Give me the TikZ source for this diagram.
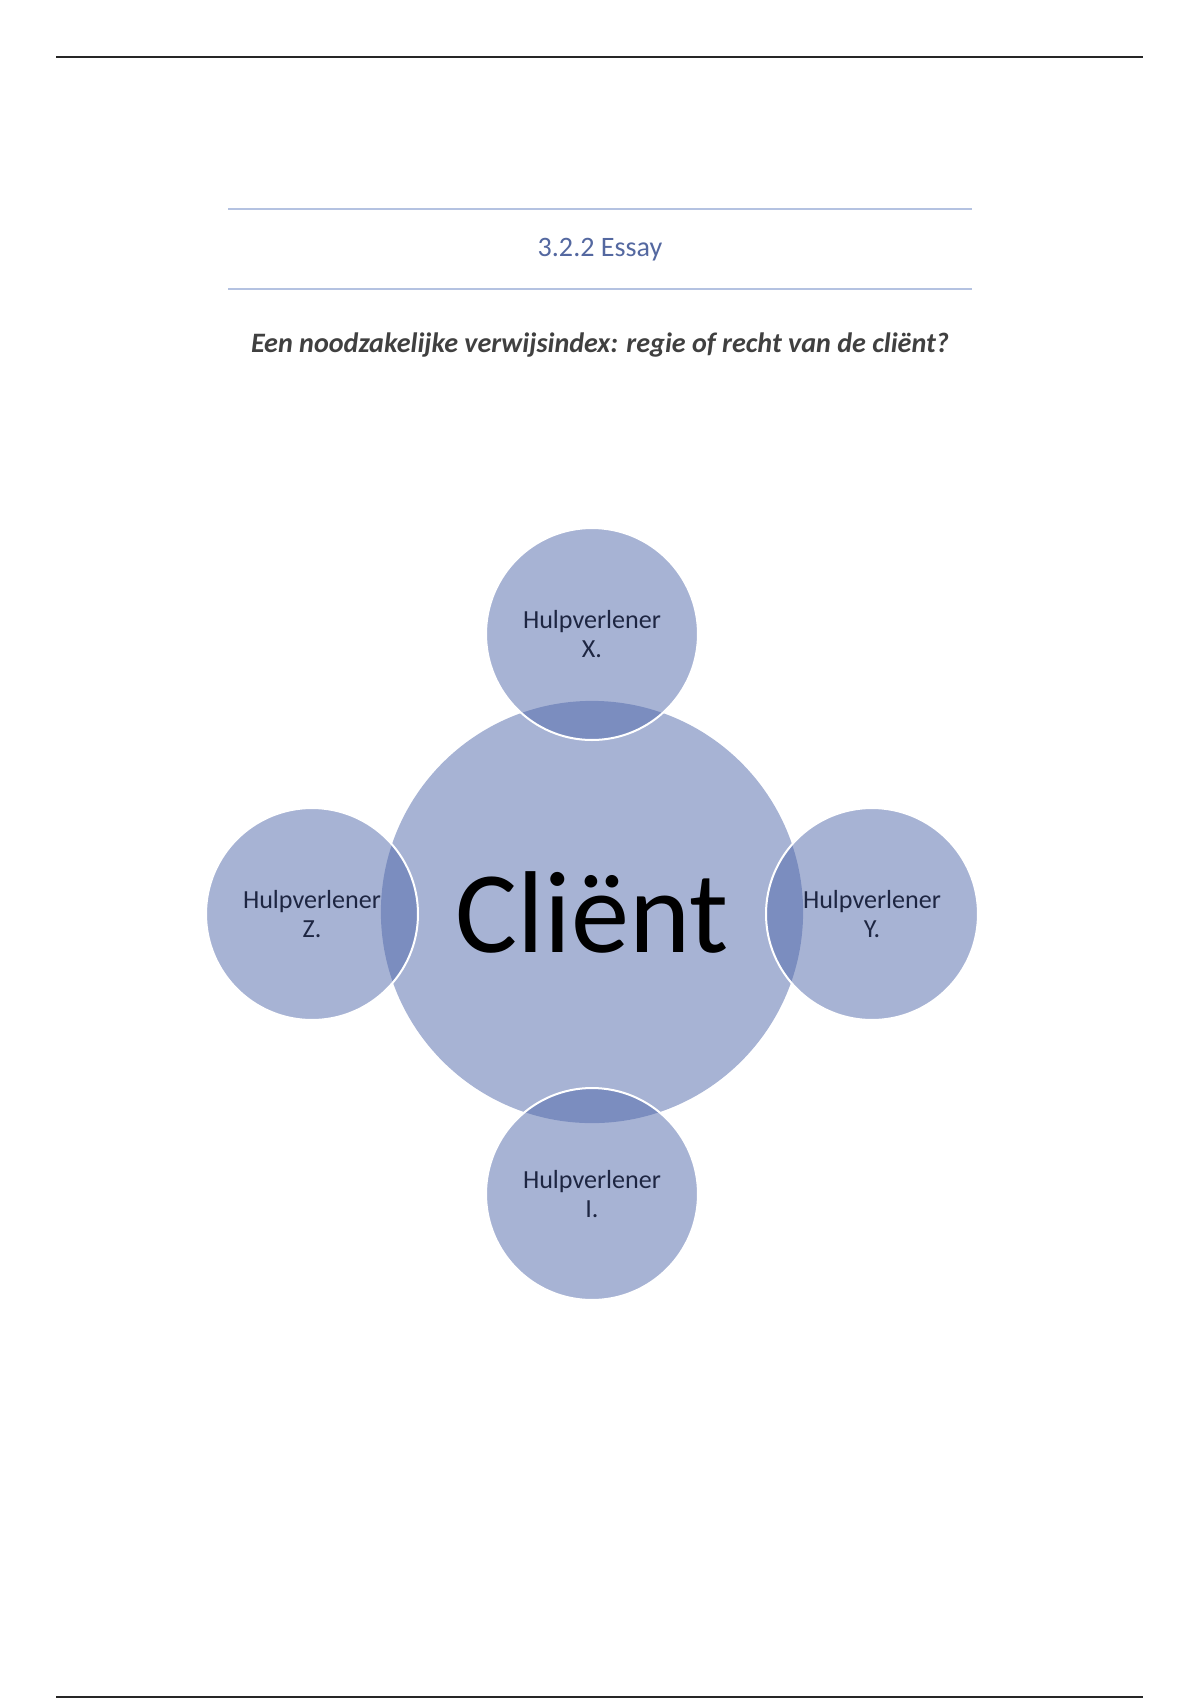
\documentclass[tikz,border=0pt]{standalone}
\usepackage{fontspec}
\setmainfont{Carlito}
\usetikzlibrary{positioning}

\definecolor{vennblue}{RGB}{80,104,170}
\definecolor{headline}{RGB}{180,194,225}
\definecolor{headtext}{RGB}{84,104,160}
\definecolor{titletext}{RGB}{64,64,64}
\definecolor{labeltext}{RGB}{30,38,66}

\begin{document}
\begin{tikzpicture}[
    x=0.0175cm, y=-0.0175cm,
    hub/.style={circle, fill=vennblue, fill opacity=0.5, text opacity=1, minimum size=7.39cm, inner sep=0pt, font=\fontsize{58}{60}\selectfont},
    helper/.style={circle, fill=vennblue, fill opacity=0.5, text opacity=1, draw=white, draw opacity=1, line width=1pt, minimum size=3.71cm, inner sep=0pt, align=center, text=labeltext, font=\fontsize{13}{14.5}\selectfont},
    rule/.style={line width=1.2pt, black!85}
]
\useasboundingbox (0,0) rectangle (1200,1700);
% page rules
\draw[rule] (56,57) -- (1143,57);
\draw[rule] (56,1697) -- (1143,1697);
% section heading
\draw[headline, line width=0.8pt] (228,209) -- (972,209);
\draw[headline, line width=0.8pt] (228,289) -- (972,289);
\node[text=headtext, font=\fontsize{14}{16}\selectfont] (heading) at (600,250) {3.2.2 Essay};
\node[text=titletext, font=\fontsize{14}{16}\selectfont\bfseries\itshape] (title) at (600,345) {Een noodzakelijke verwijsindex: regie of recht van de cliënt?};
% venn
\node[hub] (client) at (592,912) {Cliënt};
\node[helper] (hx) at (592,634) {Hulpverlener\\X.};
\node[helper] (hy) at (872,914) {Hulpverlener\\Y.};
\node[helper] (hz) at (312,914) {Hulpverlener\\Z.};
\node[helper] (hi) at (592,1194) {Hulpverlener\\I.};
\end{tikzpicture}
\end{document}
